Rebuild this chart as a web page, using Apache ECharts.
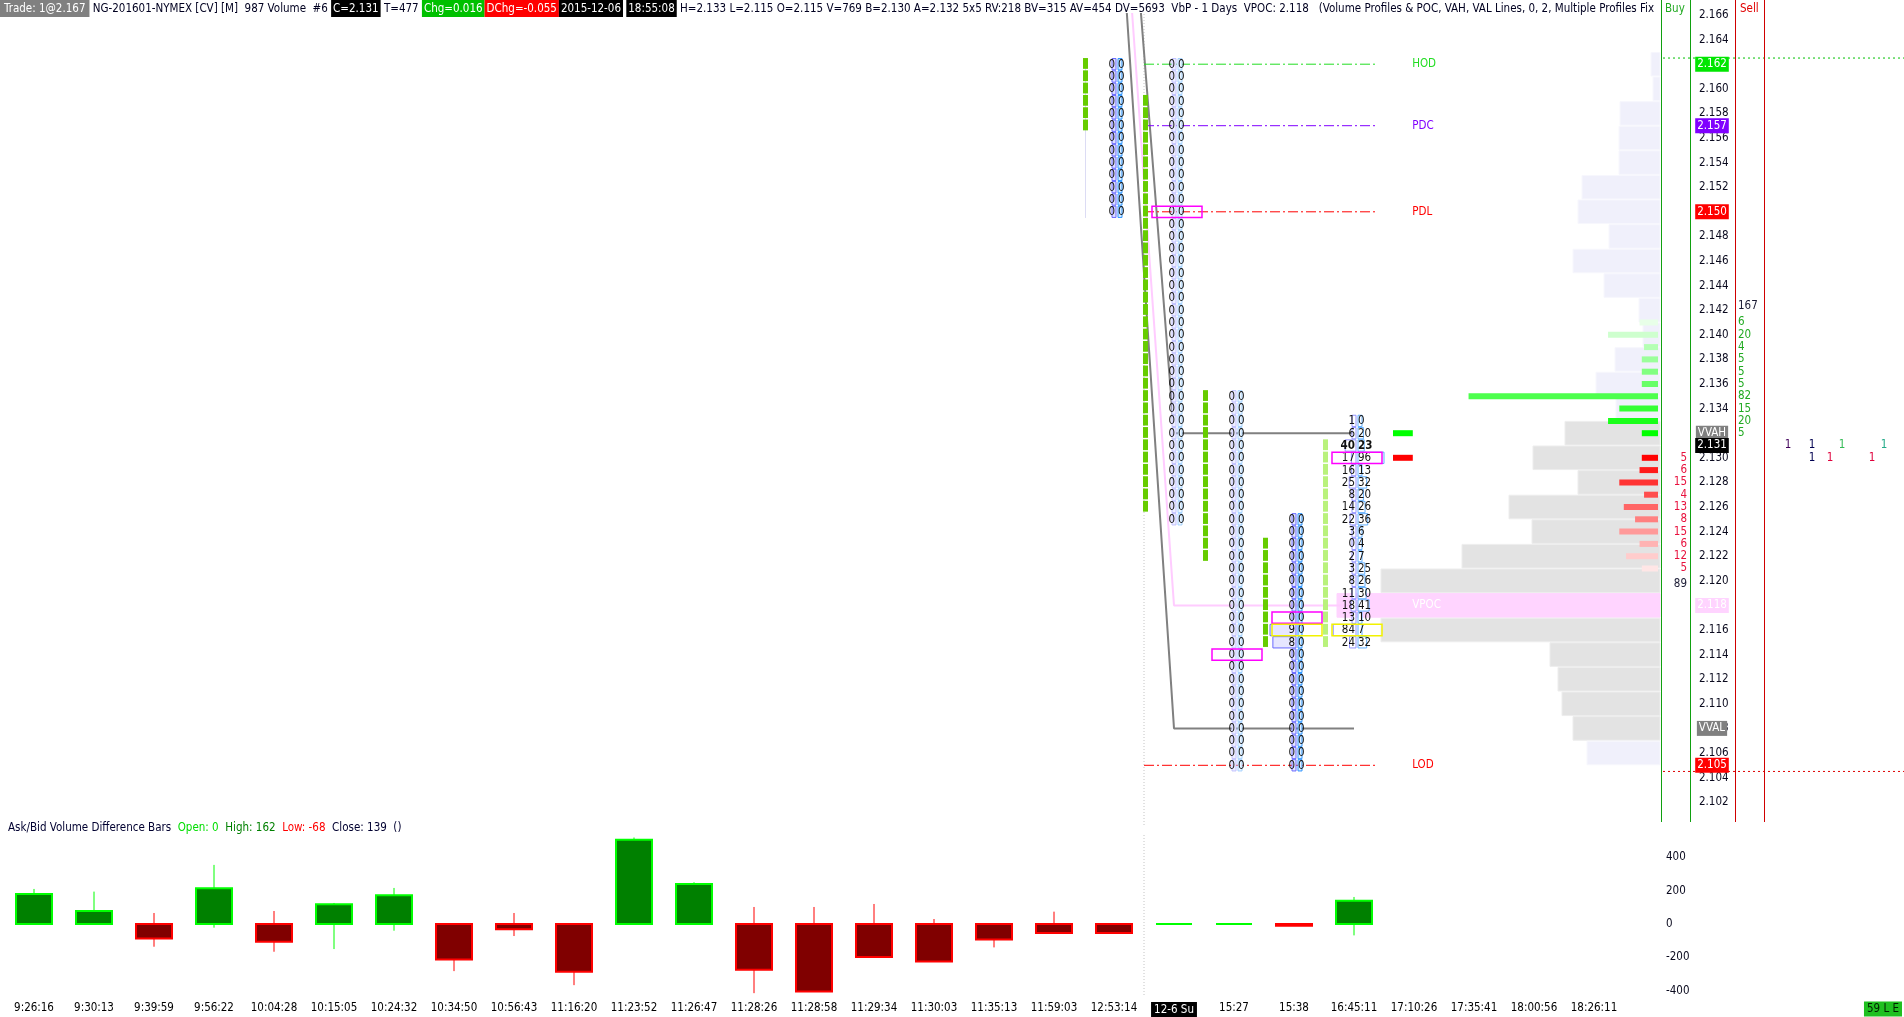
<!DOCTYPE html>
<html><head><meta charset="utf-8"><title>NG-201601-NYMEX footprint</title>
<script src="https://cdn.jsdelivr.net/npm/echarts@6.0.0/dist/echarts.min.js"></script>
<style>html,body{margin:0;padding:0;background:#fff;overflow:hidden}#chart{width:1904px;height:1017px}</style>
</head><body><div id="chart"></div><script>
// ---------------- DATA ----------------
const timeLabels = ['9:26:16','9:30:13','9:39:59','9:56:22','10:04:28','10:15:05','10:24:32','10:34:50','10:56:43','11:16:20','11:23:52','11:26:47','11:28:26','11:28:58','11:29:34','11:30:03','11:35:13','11:59:03','12:53:14','12-6 Su','15:27','15:38','16:45:11','17:10:26','17:35:41','18:00:56','18:26:11'];
const sessionFirstBar = 19;

// Ask/Bid volume difference bars (lower panel)
const diffOpen  = [0,0,0,0,0,0,0,0,0,0,0,0,0,0,0,0,0,0,0,0,0,0,0];
const diffClose = [180,78,-86,214,-106,118,172,-212,-32,-286,504,240,-274,-404,-198,-224,-92,-54,-54,0,0,-10,139];
const diffHigh  = [210,194,66,354,78,126,216,0,66,0,518,250,102,102,120,30,0,74,0,0,0,0,162];
const diffLow   = [0,0,-136,-22,-166,-150,-40,-282,-72,-366,0,0,-414,-404,-198,-224,-140,-54,-54,0,0,-10,-68];
const diffTicks = [-400,-200,0,200,400];

// price axis
const priceTicks = [2.102,2.104,2.106,2.108,2.110,2.112,2.114,2.116,2.118,2.120,2.122,2.124,2.126,2.128,2.130,2.132,2.134,2.136,2.138,2.140,2.142,2.144,2.146,2.148,2.150,2.152,2.154,2.156,2.158,2.160,2.162,2.164,2.166];
const TICK = 0.001;

// price bars shown in the upper panel
const barIndex = [18,19,20,21,22];
const barOpen  = [2.157,2.159,2.135,2.123,2.115];
const barClose = [2.162,2.126,2.122,2.115,2.131];
const barHigh  = [2.162,2.162,2.135,2.125,2.133];
const barLow   = [2.150,2.125,2.105,2.105,2.115];
const barPOC      = [null,2.150,2.114,2.117,2.130];
const barMaxDelta = [null,null,null,2.116,2.116];

// footprint bid x ask, from bar high downwards
const fpBid18 = [0,0,0,0,0,0,0,0,0,0,0,0,0];
const fpAsk18 = [0,0,0,0,0,0,0,0,0,0,0,0,0];
const fpBid19 = [0,0,0,0,0,0,0,0,0,0, 0,0,0,0,0,0,0,0,0,0, 0,0,0,0,0,0,0,0,0,0, 0,0,0,0,0,0,0,0];
const fpAsk19 = [0,0,0,0,0,0,0,0,0,0, 0,0,0,0,0,0,0,0,0,0, 0,0,0,0,0,0,0,0,0,0, 0,0,0,0,0,0,0,0];
const fpBid20 = [0,0,0,0,0,0,0,0,0,0, 0,0,0,0,0,0,0,0,0,0, 0,0,0,0,0,0,0,0,0,0, 0];
const fpAsk20 = [0,0,0,0,0,0,0,0,0,0, 0,0,0,0,0,0,0,0,0,0, 0,0,0,0,0,0,0,0,0,0, 0];
const fpBid21 = [0,0,0,0,0,0,0,0,0,9,8,0,0,0,0,0,0,0,0,0,0];
const fpAsk21 = [0,0,0,0,0,0,0,0,0,0,0,0,0,0,0,0,0,0,0,0,0];
const fpBid22 = [1,6,40,17,16,25,8,14,22,3,0,2,3,8,11,18,13,84,24];
const fpAsk22 = [0,20,23,96,13,32,20,26,36,6,4,7,25,26,30,41,10,7,32];

const lastPrice = 2.131, bestBid = 2.130, bestAsk = 2.132;

// volume profile (2-tick rows)
const profilePrice  = [2.162,2.160,2.158,2.156,2.154,2.152,2.150,2.148,2.146,2.144,2.142,2.140,2.138,2.136,2.134,2.132,2.130,2.128,2.126,2.124,2.122,2.120,2.118,2.116,2.114,2.112,2.110,2.108,2.106];
const profileVolume = [18,14,80,82,82,156,164,102,174,112,42,34,90,128,88,190,254,164,302,256,396,558,646,558,220,204,196,174,146];
const valueAreaHigh = 2.132, valueAreaLow = 2.108, vpoc = 2.118;
const prevVAH = 2.194, prevVPOC = 2.187, prevVAL = 2.182;

// ask / bid imbalance bars at the right of the profile
const askDeltaPrice = [2.141,2.140,2.139,2.138,2.137,2.136,2.135,2.134,2.133,2.132];
const askDeltaValue = [6,20,4,5,5,5,82,15,20,5];
const bidDeltaPrice = [2.130,2.129,2.128,2.127,2.126,2.125,2.124,2.123,2.122,2.121];
const bidDeltaValue = [5,6,15,4,13,8,15,6,12,5];

// reference levels
const levelName  = ['HOD','PDC','PDL','LOD'];
const levelPrice = [2.162,2.157,2.150,2.105];

// trade marks right of the Sell column
const tradeSlot  = [4,8,13,20,8,11,18];
const tradePrice = [2.131,2.131,2.131,2.131,2.130,2.130,2.130];
const tradeCount = [1,1,1,1,1,1,1];
const tradeKind  = [0,1,2,3,1,4,4];

// ---------------- FONT ----------------
function fontOK(name){
  const ctx=document.createElement('canvas').getContext('2d');
  const s='mmmmmmmmmmlli0123456789WwQq';
  ctx.font='40px monospace'; const a=ctx.measureText(s).width;
  ctx.font='40px serif'; const b=ctx.measureText(s).width;
  ctx.font='40px "'+name+'", monospace'; const c=ctx.measureText(s).width;
  ctx.font='40px "'+name+'", serif'; const d=ctx.measureText(s).width;
  return a!==c || b!==d;
}
let FAM, FS, HFS;
if (fontOK('Liberation Sans Narrow')) { FAM='"Liberation Sans Narrow", sans-serif'; FS=13; HFS=13; }
else if (fontOK('DejaVu Sans Condensed')) { FAM='"DejaVu Sans Condensed", sans-serif'; FS=11.5; HFS=11.5; }
else { FAM='"Liberation Sans", Arial, sans-serif'; FS=12; HFS=12; }
const FONT = FS+'px '+FAM;
const HFONT = HFS+'px '+FAM;
const BFONT = 'bold '+FONT;

// ---------------- LAYOUT ----------------
const X0 = -34/60, X1 = 1626/60;
const yMin0 = 2.100065, yMax0 = 2.166081;
const yMin1 = -425, yMax1 = 533;
const DMIN = -2.2, DMAX = 735.6;
const lastBar = barIndex[barIndex.length-1];

const FP_STYLE = [
  {bs:'#6a6aff', bf:'#dedeff', as:'#2f95ff', af:'#d6ecff'},
  {bs:'#c2c2ff', bf:'#efefff', as:'#a6d2ff', af:'#eef7ff'},
  {bs:'#c2c2ff', bf:'#efefff', as:'#a6d2ff', af:'#eef7ff'},
  {bs:'#6a6aff', bf:'#e6e6ff', as:'#2f95ff', af:'#deefff'},
  {bs:'#9494ff', bf:'#ffffff', as:'#62b0ff', af:'#ffffff'}
];
const LEVEL_COLOR = ['#22dd22','#8000ff','#ff0000','#ff0000'];

function hexMix(a,b,t){
  const pa=[1,3,5].map(i=>parseInt(a.substr(i,2),16)), pb=[1,3,5].map(i=>parseInt(b.substr(i,2),16));
  return 'rgb('+pa.map((v,i)=>Math.round(v+(pb[i]-v)*t)).join(',')+')';
}

// ---------------- BUILD SERIES DATA ----------------
const fpBid=[fpBid18,fpBid19,fpBid20,fpBid21,fpBid22];
const fpAsk=[fpAsk18,fpAsk19,fpAsk20,fpAsk21,fpAsk22];
const fpCells=[];
barIndex.forEach((bi,s)=>{
  const bids=fpBid[s], asks=fpAsk[s];
  const mx=Math.max.apply(null,bids.concat(asks));
  bids.forEach((b,k)=>{
    const p=+(barHigh[s]-k*TICK).toFixed(3);
    const isLast=(s===barIndex.length-1 && Math.abs(p-lastPrice)<1e-9)?1:0;
    fpCells.push([bi,p,b,asks[k],mx,s,isLast]);
  });
});
const boxData=[];
barIndex.forEach((bi,s)=>{
  if(barPOC[s]!==null) boxData.push([bi,barPOC[s],0]);
  if(barMaxDelta[s]!==null) boxData.push([bi,barMaxDelta[s],1]);
});
const barData=barIndex.map((bi,s)=>[bi,barOpen[s],barClose[s],barHigh[s],barLow[s],s===barIndex.length-1?1:0]);
const profileData=profilePrice.map((p,k)=>[profileVolume[k],p]);
const deltaData=askDeltaPrice.map((p,k)=>[askDeltaValue[k],p,0,k/(askDeltaPrice.length-1)])
  .concat(bidDeltaPrice.map((p,k)=>[bidDeltaValue[k],p,1,k/(bidDeltaPrice.length-1)]));
const levelData=levelPrice.map((p,k)=>[p,k]);
const diffData=diffClose.map((c,i)=>[i,diffOpen[i],c,diffLow[i],diffHigh[i]]);

const sumAsk=askDeltaValue.reduce((a,b)=>a+b,0), sumBid=bidDeltaValue.reduce((a,b)=>a+b,0);
const colTexts=[]; // [price, value, kind]
askDeltaPrice.forEach((p,k)=>colTexts.push([p,askDeltaValue[k],0]));
bidDeltaPrice.forEach((p,k)=>colTexts.push([p,bidDeltaValue[k],1]));
colTexts.push([askDeltaPrice[0]+1.3*TICK,sumAsk,2]);
colTexts.push([bidDeltaPrice[bidDeltaPrice.length-1]-1.3*TICK,sumBid,3]);

const axisBoxes=[
  {p:levelPrice[0], t:levelPrice[0].toFixed(3), bg:'#00e600', fg:'#ffffff'},
  {p:levelPrice[1], t:levelPrice[1].toFixed(3), bg:'#8000ff', fg:'#ffffff'},
  {p:levelPrice[2], t:levelPrice[2].toFixed(3), bg:'#ff0000', fg:'#ffffff'},
  {p:valueAreaHigh, t:'VVAH', bg:'#808080', fg:'#ffffff'},
  {p:lastPrice, t:lastPrice.toFixed(3), bg:'#000000', fg:'#ffffff'},
  {p:vpoc, t:vpoc.toFixed(3), bg:'#ffd4ff', fg:'#ffffff'},
  {p:valueAreaLow, t:'VVAL', bg:'#808080', fg:'#ffffff'},
  {p:levelPrice[3], t:levelPrice[3].toFixed(3), bg:'#ff0000', fg:'#ffffff'}
];
const TRADE_COLOR=['#40005a','#000050','#33bb55','#22aa88','#e0003c'];

// ---------------- RENDERERS ----------------
function rProfile(params,api){
  const v=api.value(0), p=api.value(1);
  const xr=api.coord([0,p])[0], xl=api.coord([v,p])[0];
  const yt=api.coord([0,p+TICK])[1], yb=api.coord([0,p-TICK])[1];
  let fill='#f0f0fb', stroke='#f7f7fd';
  if(Math.abs(p-vpoc)<1e-9){fill='#ffd4ff';stroke='#ffd4ff';}
  else if(p<=valueAreaHigh+1e-9 && p>=valueAreaLow-1e-9){fill='#e3e3e3';stroke='#ededed';}
  return {type:'rect',shape:{x:xl,y:yt+0.5,width:xr-xl,height:yb-yt-1},style:{fill:fill,stroke:stroke,lineWidth:1}};
}
function rDelta(params,api){
  const v=api.value(0), p=api.value(1), side=api.value(2), t=api.value(3);
  const xr=api.coord([DMIN,p])[0]-2, xl=api.coord([v,p])[0]-2, y=api.coord([DMIN,p])[1];
  const col = side===0 ? hexMix('#e8ffe8','#00ff00',t) : hexMix('#ff0000','#ffe6e6',t);
  return {type:'rect',shape:{x:xl,y:y-3,width:xr-xl,height:6},style:{fill:col}};
}
function rBar(params,api){
  const i=api.value(0),o=api.value(1),c=api.value(2),h=api.value(3),l=api.value(4),last=api.value(5);
  const x=api.coord([i,o])[0]-31;
  const lo=Math.min(o,c), hi=Math.max(o,c);
  const n=Math.round((hi-lo)/TICK);
  const ch=[];
  if(i<sessionFirstBar){
    const yh=api.coord([i,h+TICK/2])[1], yl=api.coord([i,l-TICK/2])[1];
    ch.push({type:'line',shape:{x1:x+2.5,y1:yh,x2:x+2.5,y2:yl},style:{stroke:'#dcdcf4',lineWidth:1}});
  }
  for(let k=0;k<=n;k++){
    const p=lo+k*TICK;
    const yt=api.coord([i,p+TICK/2])[1], yb=api.coord([i,p-TICK/2])[1];
    ch.push({type:'rect',shape:{x:x,y:yt,width:5,height:yb-yt-1.5},style:{fill:last?'#b9f27c':'#66cc00'}});
  }
  return {type:'group',children:ch};
}
function rFP(params,api){
  const i=api.value(0),p=api.value(1),b=api.value(2),a=api.value(3),mx=api.value(4),s=api.value(5),bold=api.value(6);
  const c=api.coord([i,p]), cx=c[0], cy=c[1];
  const yt=api.coord([i,p+TICK/2])[1], yb=api.coord([i,p-TICK/2])[1], h=yb-yt;
  const bw=mx>0?Math.max(4,b/mx*26):4, aw=mx>0?Math.max(4,a/mx*26):4;
  const st=FP_STYLE[s];
  const f=bold?BFONT:FONT;
  return {type:'group',children:[
    {type:'rect',shape:{x:cx+2-bw,y:yt+0.5,width:bw,height:h-1},style:{fill:st.bf,stroke:st.bs,lineWidth:1}},
    {type:'rect',shape:{x:cx+4,y:yt+0.5,width:aw,height:h-1},style:{fill:st.af,stroke:st.as,lineWidth:1}},
    {type:'text',x:cx+1,y:cy+0.5,style:{text:String(b),align:'right',verticalAlign:'middle',fill:'#111',font:f}},
    {type:'text',x:cx+4,y:cy+0.5,style:{text:String(a),align:'left',verticalAlign:'middle',fill:'#111',font:f}}
  ]};
}
function rBox(params,api){
  const i=api.value(0),p=api.value(1),k=api.value(2);
  const cx=api.coord([i,p])[0];
  const yt=api.coord([i,p+TICK/2])[1], yb=api.coord([i,p-TICK/2])[1];
  return {type:'rect',shape:{x:cx-22,y:yt+0.5,width:50,height:yb-yt-1},style:{fill:null,stroke:k===0?'#ff00ff':'#f2f200',lineWidth:1.5}};
}
function rLevel(params,api){
  const p=api.value(0),k=api.value(1);
  const x1=api.coord([sessionFirstBar-0.5,p])[0], x2=api.coord([lastBar+0.4,p]), xl=api.coord([lastBar+0.97,p])[0];
  return {type:'group',children:[
    {type:'line',shape:{x1:x1,y1:x2[1],x2:x2[0],y2:x2[1]},style:{stroke:LEVEL_COLOR[k],lineWidth:1,lineDash:[10,3,2,3]}},
    {type:'text',x:xl,y:x2[1],style:{text:levelName[k],align:'left',verticalAlign:'middle',fill:LEVEL_COLOR[k],font:FONT}}
  ]};
}
function rVpocLabel(params,api){
  const p=api.value(0); const c=api.coord([lastBar+0.97,p]);
  return {type:'text',x:c[0],y:c[1],style:{text:'VPOC',align:'left',verticalAlign:'middle',fill:'#ffffff',font:FONT}};
}
function rQuote(params,api){
  const p=api.value(0),side=api.value(1);
  const xa=api.coord([lastBar+0.65,p]), xb=api.coord([lastBar+0.98,p])[0];
  return {type:'rect',shape:{x:xa[0],y:xa[1]-3,width:xb-xa[0],height:6},style:{fill:side===0?'#00ff00':'#ff0000'}};
}
function rColText(params,api){
  const p=api.value(0),v=api.value(1),k=api.value(2);
  const c=api.coord([X1,p]);
  const sell=(k===0||k===2);
  const fill = k===0?'#22aa22':(k===1?'#e8103c':'#1a1a33');
  return {type:'text',x:sell?c[0]+78:c[0]+27,y:c[1],style:{text:String(v),align:sell?'left':'right',verticalAlign:'middle',fill:fill,font:FONT}};
}
function rAxisBox(params,api){
  const idx=api.value(1), b=axisBoxes[idx];
  const c=api.coord([X1,b.p]);
  return {type:'text',x:c[0]+52,y:c[1],style:{text:b.t,align:'center',verticalAlign:'middle',fill:b.fg,backgroundColor:b.bg,padding:[2,2,1,2],font:FONT}};
}
function rDotted(params,api){
  const p=api.value(0),k=api.value(1);
  const c=api.coord([X1,p]);
  return {type:'line',shape:{x1:c[0]+3,y1:c[1],x2:c[0]+244,y2:c[1]},style:{stroke:k===0?'#00c000':'#dd0000',lineWidth:1,lineDash:[2,3]}};
}
function rTrade(params,api){
  const s=api.value(0),p=api.value(1),v=api.value(2),k=api.value(3);
  const c=api.coord([X1,p]);
  return {type:'text',x:c[0]+104+s*6,y:c[1],style:{text:String(v),align:'center',verticalAlign:'middle',fill:TRADE_COLOR[k],font:FONT}};
}
function rSep0(params,api){
  const x=api.value(0); const a=api.coord([x,yMax0]), b=api.coord([x,yMin0]);
  return {type:'line',shape:{x1:a[0],y1:a[1],x2:b[0],y2:b[1]},style:{stroke:'#c4c4c4',lineWidth:1,lineDash:[1,2]}};
}
function rSep1(params,api){
  const x=api.value(0); const a=api.coord([x,yMax1]), b=api.coord([x,yMin1]);
  return {type:'line',shape:{x1:a[0],y1:a[1],x2:b[0],y2:b[1]},style:{stroke:'#c4c4c4',lineWidth:1,lineDash:[1,2]}};
}
function rDiff(params,api){
  const i=api.value(0),o=api.value(1),c=api.value(2),l=api.value(3),h=api.value(4);
  const w=api.size([1,0])[0]*0.6;
  const x=api.coord([i,o])[0], yo=api.coord([i,o])[1], yc=api.coord([i,c])[1], yl=api.coord([i,l])[1], yh=api.coord([i,h])[1];
  const up=c>=o;
  const bc=up?'#00ff00':'#ff0000', fc=up?'#008000':'#800000';
  return {type:'group',children:[
    {type:'line',shape:{x1:x,y1:yh,x2:x,y2:yl},style:{stroke:bc,lineWidth:1}},
    {type:'rect',shape:{x:x-w/2,y:Math.min(yo,yc),width:w,height:Math.abs(yo-yc)},style:{fill:fc,stroke:bc,lineWidth:2}}
  ]};
}

// ---------------- HEADER / TITLES ----------------
const lastDiff=diffClose.length-1;
const header='{g|Trade: 1@2.167}{n| NG-201601-NYMEX [CV] [M]  987 Volume  #6 }{k|C='+lastPrice.toFixed(3)+'}{n| T=477 }{gr|Chg=0.016}{r|DChg=-0.055}{k|2015-12-06}{n| }{k|18:55:08}{n| H='+barHigh[4].toFixed(3)+' L='+barLow[4].toFixed(3)+' O='+barOpen[4].toFixed(3)+' V=769 B='+bestBid.toFixed(3)+' A='+bestAsk.toFixed(3)+' 5x5 RV:218 BV=315 AV=454 DV=5693  VbP - 1 Days  VPOC: '+vpoc.toFixed(3)+'   (Volume Profiles & POC, VAH, VAL Lines, 0, 2, Multiple Profiles Fixed By Time Period)}';
const richBox=(bg)=>({fill:'#ffffff',backgroundColor:bg,padding:[3,2,2,2],font:HFONT});
const title='{t|Ask/Bid Volume Difference Bars}{n|  }{o|Open: '+diffOpen[lastDiff]+'}{n|  }{h|High: '+diffHigh[lastDiff]+'}{n|  }{l|Low: '+diffLow[lastDiff]+'}{n|  }{c|Close: '+diffClose[lastDiff]+'}{n|  }{c|()}';

const graphics=[
  {type:'text',left:0,top:0,z:10,style:{text:header,width:1659,overflow:'truncate',ellipsis:'',font:HFONT,fill:'#000',
    rich:{g:Object.assign(richBox('#808080'),{padding:[3,4,2,4]}),k:richBox('#000000'),gr:richBox('#00c000'),r:richBox('#ff0000'),n:{fill:'#000020',font:HFONT,padding:[3,0,2,0]}}}},
  {type:'line',z:10,shape:{x1:1661.5,y1:0,x2:1661.5,y2:822},style:{stroke:'#10a010',lineWidth:1}},
  {type:'line',z:10,shape:{x1:1690.5,y1:0,x2:1690.5,y2:822},style:{stroke:'#10a010',lineWidth:1}},
  {type:'line',z:10,shape:{x1:1735.5,y1:0,x2:1735.5,y2:822},style:{stroke:'#d00000',lineWidth:1}},
  {type:'line',z:10,shape:{x1:1764.5,y1:0,x2:1764.5,y2:822},style:{stroke:'#d00000',lineWidth:1}},
  {type:'text',x:1665,y:9,z:10,style:{text:'Buy',fill:'#22aa22',font:HFONT,verticalAlign:'middle'}},
  {type:'text',x:1740,y:9,z:10,style:{text:'Sell',fill:'#e00000',font:HFONT,verticalAlign:'middle'}},
  {type:'text',x:8,y:828,z:10,style:{text:title,font:FONT,verticalAlign:'middle',
    rich:{t:{fill:'#000030',font:FONT},n:{fill:'#000',font:FONT},o:{fill:'#00dd00',font:FONT},h:{fill:'#008000',font:FONT},l:{fill:'#ff0000',font:FONT},c:{fill:'#000030',font:FONT}}}},
  {type:'text',x:1902,y:1009,z:10,style:{text:'59 L E',align:'right',verticalAlign:'middle',fill:'#002000',backgroundColor:'#20c020',padding:[2,3,1,3],font:FONT}}
];

// ---------------- OPTION ----------------
const cs=(o)=>Object.assign({type:'custom',silent:true,animation:false,xAxisIndex:0,yAxisIndex:0},o);
const option={
  backgroundColor:'#ffffff',
  animation:false,
  grid:[
    {left:0,top:14,width:1660,height:812},
    {left:0,top:835,width:1660,height:160}
  ],
  xAxis:[
    {type:'value',gridIndex:0,min:X0,max:X1,show:false},
    {type:'value',gridIndex:1,min:X0,max:X1,position:'bottom',
      axisLine:{show:false},axisTick:{show:false},splitLine:{show:false},
      axisLabel:{customValues:timeLabels.map((_,i)=>i),hideOverlap:false,margin:7,color:'#000',fontFamily:FAM,fontSize:FS,
        formatter:(v)=>{const i=Math.round(v);const s=timeLabels[i];return i===sessionFirstBar?'{s|'+s+'}':s;},
        rich:{s:{color:'#fff',backgroundColor:'#000',padding:[2,3,1,3],fontFamily:FAM,fontSize:FS}}}},
    {type:'value',gridIndex:0,min:0,max:3320,inverse:true,show:false},
    {type:'value',gridIndex:0,min:DMIN,max:DMAX,inverse:true,show:false}
  ],
  yAxis:[
    {type:'value',gridIndex:0,min:yMin0,max:yMax0,position:'right',
      axisLine:{show:false},axisTick:{show:false},splitLine:{show:false},
      axisLabel:{customValues:priceTicks,hideOverlap:false,margin:39,color:'#0a0a1e',fontFamily:FAM,fontSize:FS,formatter:(v)=>v.toFixed(3)}},
    {type:'value',gridIndex:1,min:yMin1,max:yMax1,position:'right',
      axisLine:{show:false},axisTick:{show:false},splitLine:{show:false},
      axisLabel:{customValues:diffTicks,hideOverlap:false,margin:6,color:'#0a0a1e',fontFamily:FAM,fontSize:FS}}
  ],
  series:[
    cs({name:'profile',xAxisIndex:2,z:1,data:profileData,renderItem:rProfile}),
    cs({name:'delta',xAxisIndex:3,z:2,data:deltaData,renderItem:rDelta}),
    cs({name:'sep0',z:1,data:[[sessionFirstBar-0.5]],renderItem:rSep0}),
    {type:'line',name:'VAH',silent:true,animation:false,xAxisIndex:0,yAxisIndex:0,z:2,showSymbol:false,clip:true,
      data:[[barIndex[0],prevVAH],[sessionFirstBar,valueAreaHigh],[lastBar,valueAreaHigh]],lineStyle:{color:'#808080',width:2}},
    {type:'line',name:'VAL',silent:true,animation:false,xAxisIndex:0,yAxisIndex:0,z:2,showSymbol:false,clip:true,
      data:[[barIndex[0],prevVAL],[sessionFirstBar,valueAreaLow],[lastBar,valueAreaLow]],lineStyle:{color:'#808080',width:2}},
    {type:'line',name:'VPOCline',silent:true,animation:false,xAxisIndex:0,yAxisIndex:0,z:2,showSymbol:false,clip:true,
      data:[[barIndex[0],prevVPOC],[sessionFirstBar,vpoc],[lastBar,vpoc]],lineStyle:{color:'#ffccff',width:2}},
    cs({name:'levels',z:3,data:levelData,renderItem:rLevel}),
    cs({name:'vpocLabel',z:3,data:[[vpoc]],renderItem:rVpocLabel}),
    cs({name:'bars',z:3,data:barData,renderItem:rBar}),
    cs({name:'footprint',z:4,data:fpCells,renderItem:rFP}),
    cs({name:'boxes',z:5,data:boxData,renderItem:rBox}),
    cs({name:'quote',z:4,data:[[bestAsk,0],[bestBid,1]],renderItem:rQuote}),
    cs({name:'colText',z:6,data:colTexts,renderItem:rColText}),
    cs({name:'dotted',z:5,data:[[levelPrice[0]+TICK/2,0],[levelPrice[3]-TICK/2,1]],renderItem:rDotted}),
    cs({name:'axisBoxes',z:7,data:axisBoxes.map((b,k)=>[b.p,k]),renderItem:rAxisBox}),
    cs({name:'trades',z:6,data:tradeSlot.map((s,k)=>[s,tradePrice[k],tradeCount[k],tradeKind[k]]),renderItem:rTrade}),
    cs({name:'diff',xAxisIndex:1,yAxisIndex:1,z:3,data:diffData,renderItem:rDiff}),
    cs({name:'sep1',xAxisIndex:1,yAxisIndex:1,z:1,data:[[sessionFirstBar-0.5]],renderItem:rSep1})
  ],
  graphic:graphics
};
const chart=echarts.init(document.getElementById('chart'),null,{renderer:'canvas',width:1904,height:1017});
chart.setOption(option);
</script></body></html>
